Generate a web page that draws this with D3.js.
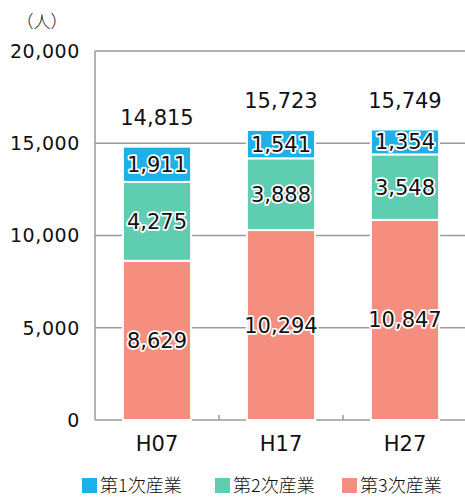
<!DOCTYPE html>
<html>
<head>
<meta charset="utf-8">
<script src="https://cdn.jsdelivr.net/npm/d3@7"></script>
<style>
  body { margin: 0; background: #fff; }
  text { font-family: "DejaVu Sans", "Noto Sans CJK JP", sans-serif; fill: #111; }
  .jp { font-family: "Noto Sans CJK JP", sans-serif; font-weight: 300; }
</style>
</head>
<body>
<div id="chart"></div>
<script>
// data
var years = ["H07", "H17", "H27"];
var sector1 = [1911, 1541, 1354];
var sector2 = [4275, 3888, 3548];
var sector3 = [8629, 10294, 10847];
var totals = [14815, 15723, 15749];
var seriesNames = ["第1次産業", "第2次産業", "第3次産業"];
var seriesColors = ["#1cb2e8", "#5ecdb0", "#f58e7e"];
var yTicks = [0, 5000, 10000, 15000, 20000];

var width = 465, height = 497;
var margin = {top: 51, left: 95, bottom: 77};
var plotW = 372;

var svg = d3.select("#chart").append("svg")
  .attr("width", width)
  .attr("height", height);

var x = d3.scaleBand().domain(years).range([margin.left, margin.left + plotW]).paddingInner(0.45).paddingOuter(0.225);
var y = d3.scaleLinear().domain([0, 20000]).range([height - margin.bottom, margin.top]);

var fmt = d3.format(",");

// gridlines + frame
svg.append("g").selectAll("line").data(yTicks).enter().append("line")
  .attr("x1", margin.left).attr("x2", margin.left + plotW)
  .attr("y1", function(d) { return y(d); }).attr("y2", function(d) { return y(d); })
  .attr("stroke", "#9a9a9a").attr("stroke-width", 1.5);

svg.append("line")
  .attr("x1", margin.left).attr("x2", margin.left)
  .attr("y1", y(20000)).attr("y2", y(0))
  .attr("stroke", "#9a9a9a").attr("stroke-width", 1.5);

// category ticks between bars
svg.append("g").selectAll("line").data(years.slice(1)).enter().append("line")
  .attr("x1", function(d) { return x(d) - x.step() * x.paddingInner() / 2; })
  .attr("x2", function(d) { return x(d) - x.step() * x.paddingInner() / 2; })
  .attr("y1", y(0)).attr("y2", y(0) - 5)
  .attr("stroke", "#9a9a9a").attr("stroke-width", 1.5);

// y tick labels
svg.append("g").selectAll("text").data(yTicks).enter().append("text")
  .attr("x", 80).attr("y", function(d) { return y(d); })
  .attr("dy", "0.36em").attr("text-anchor", "end")
  .style("font-size", "19px").style("letter-spacing", "0.6px")
  .text(function(d) { return fmt(d); });

svg.append("text").attr("class", "jp").attr("x", 42).attr("y", 22).attr("dy", "0.35em")
  .attr("text-anchor", "middle").style("font-size", "17px").text("（人）");

// stacked bars
var rows = years.map(function(yr, i) {
  return {year: yr, s3: sector3[i], s2: sector2[i], s1: sector1[i]};
});
var stack = d3.stack().keys(["s3", "s2", "s1"])(rows);
var colorOf = {s1: seriesColors[0], s2: seriesColors[1], s3: seriesColors[2]};

var layers = svg.append("g").selectAll("g").data(stack).enter().append("g")
  .attr("fill", function(d) { return colorOf[d.key]; });

layers.selectAll("rect").data(function(d) { return d; }).enter().append("rect")
  .attr("x", function(d) { return x(d.data.year); })
  .attr("width", x.bandwidth())
  .attr("y", function(d) { return y(d[1]); })
  .attr("height", function(d) { return y(d[0]) - y(d[1]); })
  .attr("stroke", "#fff").attr("stroke-width", 2);

// segment labels with white halo
layers.selectAll("text").data(function(d) { return d; }).enter().append("text")
  .attr("x", function(d) { return x(d.data.year) + x.bandwidth() / 2; })
  .attr("y", function(d) { return (y(d[0]) + y(d[1])) / 2; })
  .attr("dy", "0.36em").attr("text-anchor", "middle")
  .style("font-size", "21px")
  .attr("stroke", "#fff").attr("stroke-width", 3.5).attr("stroke-linejoin", "round")
  .style("paint-order", "stroke")
  .text(function(d) { return fmt(d[1] - d[0]); });

// totals
svg.append("g").selectAll("text").data(years).enter().append("text")
  .attr("x", function(d) { return x(d) + x.bandwidth() / 2; })
  .attr("y", function(d, i) { return y(totals[i]) - 29; })
  .attr("dy", "0.36em").attr("text-anchor", "middle")
  .style("font-size", "21px")
  .text(function(d, i) { return fmt(totals[i]); });

// x labels
svg.append("g").selectAll("text").data(years).enter().append("text")
  .attr("x", function(d) { return x(d) + x.bandwidth() / 2; })
  .attr("y", 443).attr("dy", "0.36em").attr("text-anchor", "middle")
  .style("font-size", "21px")
  .text(function(d) { return d; });

// legend
var legendX = [82, 215, 342];
var lg = svg.append("g").selectAll("g").data(seriesNames).enter().append("g")
  .attr("transform", function(d, i) { return "translate(" + legendX[i] + ",478)"; });
lg.append("rect").attr("width", 15).attr("height", 15)
  .attr("fill", function(d, i) { return seriesColors[i]; });
lg.append("text").attr("class", "jp").attr("x", 18).attr("y", 8).attr("dy", "0.35em")
  .style("font-size", "18px")
  .text(function(d) { return d; });
</script>
</body>
</html>
